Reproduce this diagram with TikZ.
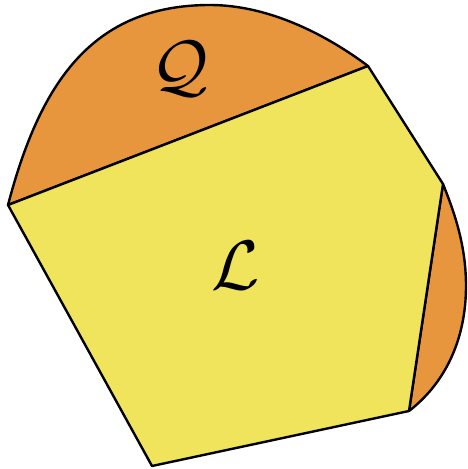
\documentclass[tikz,border=0pt]{standalone}
\begin{document}
\begin{tikzpicture}[x=1pt,y=1pt,
  edge/.style={draw=black,line width=2.4pt,line join=round},
  segfill/.style={fill=segorange},
  polyfill/.style={fill=polyyellow},
  biglabel/.style={inner sep=0pt}]
\definecolor{segorange}{RGB}{232,150,62}
\definecolor{polyyellow}{RGB}{240,228,92}
\useasboundingbox (0,0) rectangle (467,469);
\coordinate (A) at (8,264);
\coordinate (B) at (368,403);
\coordinate (C) at (443,285);
\coordinate (D) at (409,58);
\coordinate (E) at (152,3);
\coordinate (T) at (210,464);
\coordinate (R) at (466,183);
% top segment Q
\path[segfill,edge] (A) .. controls (40,386) and (92,464) .. (T)
  .. controls (270,464) and (328,433) .. (B) -- cycle;
% right segment
\path[segfill,edge] (C) .. controls (455,255) and (466,223) .. (R)
  .. controls (466,128) and (444,85) .. (D) -- cycle;
% pentagon L
\path[polyfill,edge] (A) -- (B) -- (C) -- (D) -- (E) -- cycle;
\node[biglabel] (Q) at (180,400) {\scalebox{7}{$\mathcal{Q}$}};
\node[biglabel] (L) at (236,203) {\scalebox{7}{$\mathcal{L}$}};
\end{tikzpicture}
\end{document}
